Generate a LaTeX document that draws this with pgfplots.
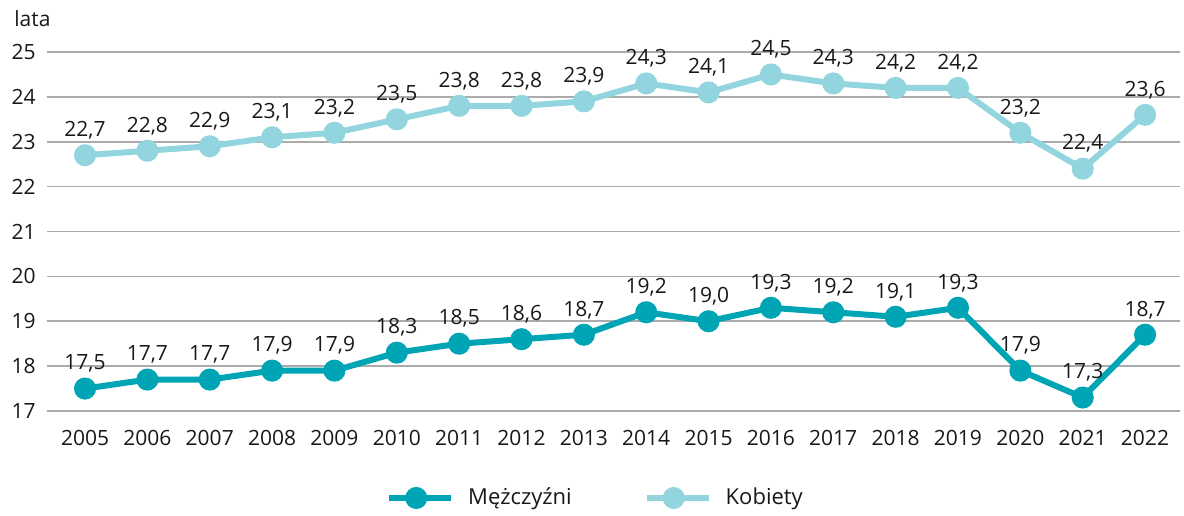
\documentclass[border=0pt]{standalone}
\usepackage{pgfplots}
\pgfplotsset{compat=1.18}
\usepackage{fontspec}
\setmainfont{Open Sans}
\definecolor{men}{HTML}{00A5B5}
\definecolor{women}{HTML}{93D5DF}
\definecolor{txt}{HTML}{1A1718}
\definecolor{gridc}{HTML}{ABABAB}
\pgfplotstableread{
year M K
2005 17.5 22.7
2006 17.7 22.8
2007 17.7 22.9
2008 17.9 23.1
2009 17.9 23.2
2010 18.3 23.5
2011 18.5 23.8
2012 18.6 23.8
2013 18.7 23.9
2014 19.2 24.3
2015 19.0 24.1
2016 19.3 24.5
2017 19.2 24.3
2018 19.1 24.2
2019 19.3 24.2
2020 17.9 23.2
2021 17.3 22.4
2022 18.7 23.6
}\datatable
\begin{document}
\fontsize{10.5pt}{12pt}\selectfont
\begin{tikzpicture}
\path[use as bounding box] (-23.5pt,-52pt) rectangle (568.5pt,205.5pt);
\begin{axis}[
  at={(0,0)}, anchor=south west,
  scale only axis, width=566.5pt, height=179.5pt,
  xmin=2004.39, xmax=2022.56, ymin=17, ymax=25,
  axis line style={draw=none},
  tick style={draw=none},
  xtick={2005,...,2022},
  ytick={17,...,25},
  ymajorgrids, grid style={gridc, line width=0.8pt},
  x tick label style={/pgf/number format/1000 sep=},
  xticklabel style={yshift=-6pt},
  yticklabel style={xshift=-2pt},
  /pgf/number format/assume math mode=true,
  tick label style={font=\fontsize{10.5pt}{12pt}\selectfont, text=txt},
  clip=false,
  nodes near coords,
  nodes near coords style={font=\fontsize{10.5pt}{12pt}\selectfont, text=txt, anchor=south, yshift=3pt,
    /pgf/number format/.cd, fixed, fixed zerofill, precision=1, use comma, assume math mode=true},
  legend columns=2,
  legend style={at={(0.485,-0.2423)}, anchor=center, draw=none, fill=none,
    font=\fontsize{11pt}{12pt}\selectfont, text=txt,
    /tikz/every odd column/.append style={column sep=5pt},
    /tikz/every even column/.append style={column sep=34pt}},
  legend image code/.code={
    \draw[#1, mark=none] (0pt,0pt) -- (31pt,0pt);
    \draw[#1] plot coordinates {(13.5pt,0pt)};
  },
]
\addplot[men, line width=3pt, mark=*, mark size=4pt, mark options={solid}] table[x=year, y=M] {\datatable};
\addlegendentry{Mężczyźni}
\addplot[women, line width=3pt, mark=*, mark size=4pt, mark options={solid}] table[x=year, y=K] {\datatable};
\addlegendentry{Kobiety}
\end{axis}
\node[anchor=west, text=txt, font=\fontsize{10.5pt}{12pt}\selectfont] at (-20pt,196pt) {lata};
\end{tikzpicture}
\end{document}
